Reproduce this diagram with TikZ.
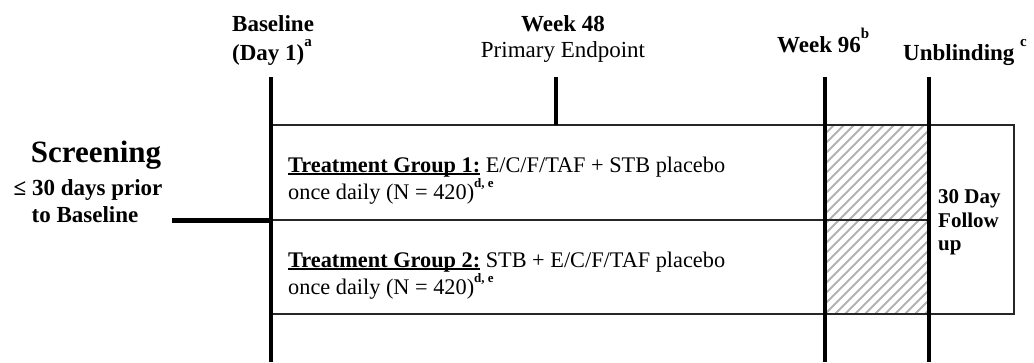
\documentclass[tikz,border=0pt]{standalone}
\usepackage{fontspec}
\setmainfont{Liberation Serif}
\newcommand\supmark[1]{\raisebox{0.58em}{\fontsize{15}{15}\selectfont #1}}
\newcommand\supsmall[1]{\raisebox{0.5em}{\fontsize{13}{13}\selectfont\bfseries #1}}
\newcommand\ulbox[1]{\setbox0\hbox{#1}\rlap{\rule[-3pt]{\wd0}{1.6pt}}\box0}
\begin{document}
\begin{tikzpicture}[x=1pt,y=-1pt,
  heavy/.style={line width=4pt},
  boxline/.style={line width=1.5pt, draw=black!85},
  hatchline/.style={line width=1.8pt, draw=black!30},
  hdr/.style={inner sep=0, font=\fontsize{23}{26}\selectfont\bfseries},
  hdrreg/.style={inner sep=0, font=\fontsize{23}{26}\selectfont},
  body/.style={inner sep=0, font=\fontsize{22.3}{26}\selectfont, anchor=base west},
  fup/.style={inner sep=0, font=\fontsize{21}{23}\selectfont\bfseries, anchor=base west}]
\useasboundingbox (0,0) rectangle (1034,362);

% structural coordinates
\coordinate (bT) at (271,77);   \coordinate (bB) at (271,362);
\coordinate (w48T) at (556,77); \coordinate (w48B) at (556,125);
\coordinate (w96T) at (825,77); \coordinate (w96B) at (825,362);
\coordinate (uT) at (929,77);   \coordinate (uB) at (929,362);
\coordinate (scrL) at (172,220); \coordinate (scrR) at (271,220);
\coordinate (boxNW) at (271,125); \coordinate (boxSE) at (1014,314);
\coordinate (midL) at (271,220); \coordinate (midR) at (929,220);
\coordinate (hatchNW) at (825,125); \coordinate (hatchSE) at (929,314);

% hatched region
\begin{scope}
  \clip (hatchNW) rectangle (hatchSE);
  \foreach \i in {-200,-190,...,110}
    \draw[hatchline] (825+\i,314) -- ++(200,-200);
\end{scope}

% box
\draw[boxline] (boxNW) rectangle (boxSE);
\draw[boxline] (midL) -- (midR);

% thick timeline lines
\draw[heavy] (bT) -- (bB);
\draw[line width=3.5pt] (w48T) -- (w48B);
\draw[heavy] (w96T) -- (w96B);
\draw[heavy] (uT) -- (uB);
\draw[line width=5pt] (scrL) -- (scrR);

% headers
\node[hdr, anchor=base west] (base1) at (232,31) {Baseline};
\node[hdr, anchor=base west] (base2) at (232,60) {(Day 1)\supmark{a}};
\node[hdr, anchor=base] (wk48) at (563,31) {Week 48};
\node[hdrreg, anchor=base] (pe) at (563,57) {Primary Endpoint};
\node[hdr, anchor=base west] (wk96) at (777,52) {Week 96\supmark{b}};
\node[hdr, anchor=base west] (unb) at (903,60) {Unblinding \supmark{c}};

% screening
\node[inner sep=0, font=\fontsize{31}{34}\selectfont\bfseries, anchor=base] (scr) at (96,162) {Screening};
\node[hdr, anchor=base] (scr2) at (88,195) {≤ 30 days prior};
\node[hdr, anchor=base] (scr3) at (85,222) {to Baseline};

% treatment groups
\node[body] (tg1a) at (288,172) {\ulbox{\textbf{Treatment Group 1:}}\ E/C/F/TAF + STB placebo};
\node[body] (tg1b) at (288,199) {once daily (N = 420)\supsmall{d, e}};
\node[body] (tg2a) at (288,267) {\ulbox{\textbf{Treatment Group 2:}}\ STB + E/C/F/TAF placebo};
\node[body] (tg2b) at (288,294) {once daily (N = 420)\supsmall{d, e}};

% follow up
\node[fup] (fu1) at (938,203) {30 Day};
\node[fup] (fu2) at (938,227) {Follow};
\node[fup] (fu3) at (938,250) {up};
\end{tikzpicture}
\end{document}
